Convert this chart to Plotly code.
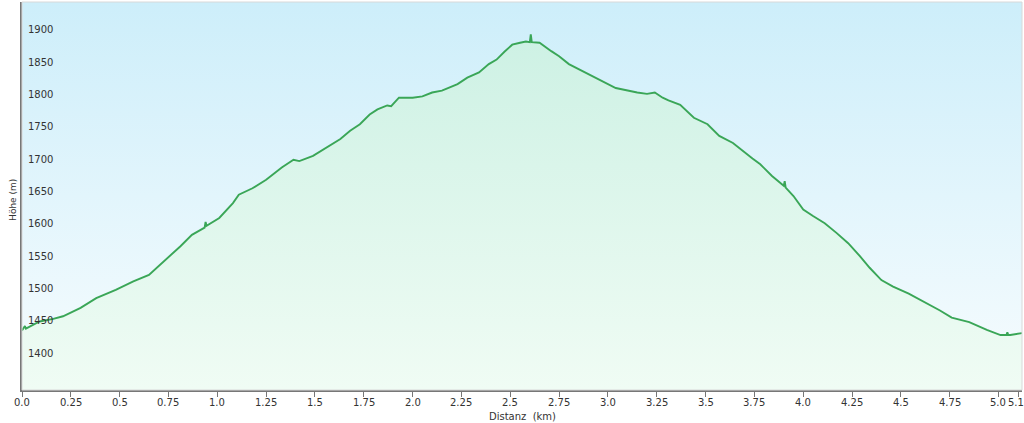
import plotly.graph_objects as go

# elevation profile
distanz_km = [
    0.00, 0.015, 0.02, 0.09, 0.16, 0.21, 0.30, 0.38, 0.48, 0.57, 0.65, 0.74, 0.81,
    0.87, 0.935, 0.94, 0.945, 1.01, 1.08, 1.11, 1.18, 1.25, 1.27, 1.33, 1.39, 1.42,
    1.49, 1.56, 1.63, 1.68, 1.73, 1.78, 1.82, 1.87, 1.89, 1.93, 2.00, 2.05, 2.10,
    2.15, 2.23, 2.28, 2.34, 2.39, 2.43, 2.47, 2.51, 2.55, 2.58, 2.60, 2.605, 2.61,
    2.65, 2.71, 2.75, 2.80, 2.89, 2.96, 3.04, 3.15, 3.20, 3.24, 3.28, 3.31, 3.37,
    3.44, 3.51, 3.57, 3.64, 3.74, 3.78, 3.84, 3.90, 3.905, 3.91, 3.95, 4.00, 4.05,
    4.11, 4.17, 4.23, 4.29, 4.34, 4.40, 4.46, 4.54, 4.63, 4.70, 4.76, 4.85, 4.94,
    5.01, 5.04, 5.045, 5.05, 5.06, 5.12,
]
hoehe_m = [
    1442, 1449, 1445, 1456, 1460, 1464, 1477, 1492, 1505, 1518, 1528, 1552, 1572,
    1590, 1601, 1610, 1604, 1616, 1639, 1652, 1662, 1675, 1680, 1694, 1706, 1704,
    1712, 1725, 1738, 1751, 1761, 1776, 1784, 1790, 1789, 1802, 1802, 1804, 1810,
    1813, 1823, 1833, 1841, 1854, 1861, 1873, 1884, 1887, 1889, 1888, 1900, 1888,
    1887, 1874, 1866, 1854, 1840, 1830, 1817, 1810, 1808, 1810, 1802, 1798, 1791,
    1771, 1761, 1743, 1732, 1708, 1699, 1681, 1666, 1673, 1663, 1650, 1629, 1619,
    1608, 1593, 1577, 1557, 1539, 1520, 1510, 1499, 1485, 1473, 1462, 1455, 1443,
    1435, 1435, 1439, 1435, 1435, 1438,
]

x_tick_vals = [0, 0.25, 0.5, 0.75, 1.0, 1.25, 1.5, 1.75, 2.0, 2.25, 2.5, 2.75, 3.0,
               3.25, 3.5, 3.75, 4.0, 4.25, 4.5, 4.75, 5.0, 5.1]
x_tick_text = ["0.0", "0.25", "0.5", "0.75", "1.0", "1.25", "1.5", "1.75", "2.0",
               "2.25", "2.5", "2.75", "3.0", "3.25", "3.5", "3.75", "4.0", "4.25",
               "4.5", "4.75", "5.0", "5.1"]
y_tick_vals = [1400, 1450, 1500, 1550, 1600, 1650, 1700, 1750, 1800, 1850, 1900]

X_RANGE = [0, 5.12]
Y_RANGE = [1350, 1950]

fig = go.Figure()

# background sky gradient
fig.add_trace(go.Scatter(
    x=X_RANGE, y=[Y_RANGE[1], Y_RANGE[1]],
    mode="lines", line=dict(width=0), fill="tozeroy",
    fillgradient=dict(type="vertical", start=Y_RANGE[0], stop=Y_RANGE[1],
                      colorscale=[[0, "#f7fcfe"], [1, "#cdeefa"]]),
    hoverinfo="skip", showlegend=False,
))

# elevation profile
fig.add_trace(go.Scatter(
    x=distanz_km, y=hoehe_m,
    mode="lines", line=dict(color="#3aa657", width=1.9),
    fill="tozeroy",
    fillgradient=dict(type="vertical", start=Y_RANGE[0], stop=1900,
                      colorscale=[[0, "#f0fcf4"], [1, "#cdf1e4"]]),
    showlegend=False,
))

font_fam = "DejaVu Sans, Verdana, sans-serif"
lbl_font = dict(size=10, color="#333333")

# y labels sit inside the plot, just above their grid line
y_labels = [dict(
    text=str(v), showarrow=False, xref="paper", yref="y", x=0, y=v,
    xanchor="left", yanchor="bottom", xshift=4, yshift=-3, font=lbl_font,
) for v in y_tick_vals]

# x labels as annotations; the last two are nudged so they don't collide at the edge
nudge = {5.0: -1, 5.1: -2}
x_labels = [dict(
    text=t, showarrow=False, xref="x", yref="paper", x=v, y=0,
    xanchor="center", yanchor="top", yshift=-5, xshift=nudge.get(v, 0),
    font=lbl_font,
) for v, t in zip(x_tick_vals, x_tick_text)]

fig.update_layout(
    width=1024, height=423,
    margin=dict(l=22, r=2, t=2, b=33),
    paper_bgcolor="white",
    plot_bgcolor="white",
    font=dict(family=font_fam, size=10, color="#333333"),
    xaxis=dict(
        range=X_RANGE, tickvals=x_tick_vals, showticklabels=False,
        showgrid=False, zeroline=False, automargin=False,
        showline=True, linecolor="#777777", linewidth=2,
        ticks="outside", ticklen=5, tickcolor="#777777",
    ),
    yaxis=dict(
        range=Y_RANGE, tickvals=y_tick_vals, showticklabels=False,
        showgrid=True, gridcolor="#c9dde2", gridwidth=1, zeroline=False,
        showline=True, linecolor="#777777", linewidth=2, automargin=False,
        ticks="",
    ),
    annotations=y_labels + x_labels + [
        dict(text="Höhe (m)", textangle=-90, showarrow=False,
             xref="paper", yref="paper", x=0, y=0.49, xshift=-9,
             xanchor="center", yanchor="middle",
             font=dict(size=9, color="#333333")),
        dict(text="Distanz  (km)", showarrow=False,
             xref="paper", yref="paper", x=0.5, y=0, yshift=-19,
             xanchor="center", yanchor="top", font=lbl_font),
    ],
    shapes=[dict(type="rect", xref="paper", yref="paper", x0=0, x1=1, y0=0, y1=1,
                 line=dict(color="#d8d8d8", width=1), layer="above")],
)

fig.write_html("out.html", config={"displayModeBar": False},
               post_script="document.body.style.margin='0';")
